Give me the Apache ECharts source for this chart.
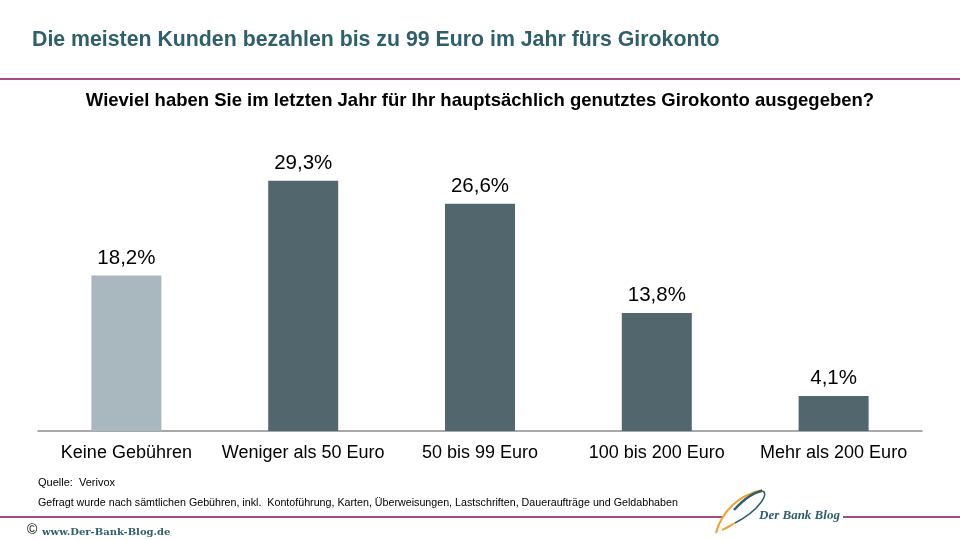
<!DOCTYPE html>
<html><head><meta charset="utf-8">
<script src="https://cdn.jsdelivr.net/npm/echarts@6/dist/echarts.min.js"></script>
<style>html,body{margin:0;padding:0;background:#fff}#c{width:960px;height:540px}</style>
</head><body><div id="c"></div>
<script>
const categories = ['Keine Gebühren', 'Weniger als 50 Euro', '50 bis 99 Euro', '100 bis 200 Euro', 'Mehr als 200 Euro'];
const values = [18.2, 29.3, 26.6, 13.8, 4.1];
const barColors = ['#a9b8bf', '#52666e', '#52666e', '#52666e', '#52666e'];
const title = 'Die meisten Kunden bezahlen bis zu 99 Euro im Jahr fürs Girokonto';
const subtitle = 'Wieviel haben Sie im letzten Jahr für Ihr hauptsächlich genutztes Girokonto ausgegeben?';
const source = 'Quelle:  Verivox';
const note = 'Gefragt wurde nach sämtlichen Gebühren, inkl.  Kontoführung, Karten, Überweisungen, Lastschriften, Daueraufträge und Geldabhaben';

const chart = echarts.init(document.getElementById('c'));
const F = '"Liberation Sans", Arial, sans-serif';
chart.setOption({
  animation: false,
  grid: { left: 38, right: 38, top: 132, bottom: 109 },
  xAxis: {
    type: 'category', data: categories,
    axisLine: { lineStyle: { color: '#8c8c8c', width: 1.5 } },
    axisTick: { show: false },
    axisLabel: { interval: 0, color: '#000', fontFamily: F, fontSize: 18, margin: 13 }
  },
  yAxis: { type: 'value', min: 0, max: 35, show: false, splitLine: { show: false } },
  series: [{
    type: 'bar', barWidth: 70,
    data: values.map((v, i) => ({ value: v, itemStyle: { color: barColors[i] } })),
    label: {
      show: true, position: 'top', distance: 7, color: '#000', fontFamily: F, fontSize: 20.5,
      formatter: p => p.value.toFixed(1).replace('.', ',') + '%'
    }
  }],
  graphic: [
    { type: 'text', x: 32, y: 40, style: { text: title, fill: '#2e5f6b', font: 'bold 21.3px ' + F, verticalAlign: 'middle' } },
    { type: 'line', shape: { x1: 0, y1: 79, x2: 960, y2: 79 }, style: { stroke: '#8a1059', lineWidth: 1.3 } },
    { type: 'text', x: 480, y: 101, style: { text: subtitle, fill: '#000', font: 'bold 18.5px ' + F, align: 'center', verticalAlign: 'middle' } },
    { type: 'text', left: 38, top: 477, style: { text: source, fill: '#000', font: '11px ' + F } },
    { type: 'text', left: 38, top: 498, style: { text: note, fill: '#000', font: '10.7px ' + F } },
    { type: 'line', shape: { x1: 0, y1: 517, x2: 722, y2: 517 }, style: { stroke: '#8a1059', lineWidth: 1.3 } },
    { type: 'line', shape: { x1: 843, y1: 517, x2: 960, y2: 517 }, style: { stroke: '#8a1059', lineWidth: 1.3 } },
    { type: 'bezierCurve', shape: { x1: 716, y1: 533, cpx1: 722, cpy1: 510, x2: 762, y2: 490, cpx2: 740, cpy2: 495 }, style: { stroke: '#f0a030', lineWidth: 2, fill: null } },
    { type: 'bezierCurve', shape: { x1: 734, y1: 510, cpx1: 745, cpy1: 498, x2: 762, y2: 491, cpx2: 755, cpy2: 492 }, style: { stroke: '#2e5f6b', lineWidth: 2.5, fill: null } },
    { type: 'bezierCurve', shape: { x1: 762, y1: 491, cpx1: 770, cpy1: 492, x2: 735, y2: 523, cpx2: 760, cpy2: 510 }, style: { stroke: '#2e5f6b', lineWidth: 1.5, fill: null } },
    { type: 'bezierCurve', shape: { x1: 735, y1: 523, cpx1: 728, cpy1: 527, x2: 722, y2: 530, cpx2: 725, cpy2: 529 }, style: { stroke: '#f0a030', lineWidth: 2, fill: null } },
    { type: 'text', left: 759, top: 509, style: { text: 'Der Bank Blog', fill: '#2e5f6b', font: 'italic bold 13px "Liberation Serif", "DejaVu Serif", serif' } },
    { type: 'text', left: 27, top: 523, style: { text: '©', fill: '#000', font: '14px ' + F } },
    { type: 'text', left: 42, top: 527, style: { text: 'www.Der-Bank-Blog.de', fill: '#2e5f6b', font: 'bold 10px "DejaVu Serif", serif' } }
  ]
});
</script></body></html>
